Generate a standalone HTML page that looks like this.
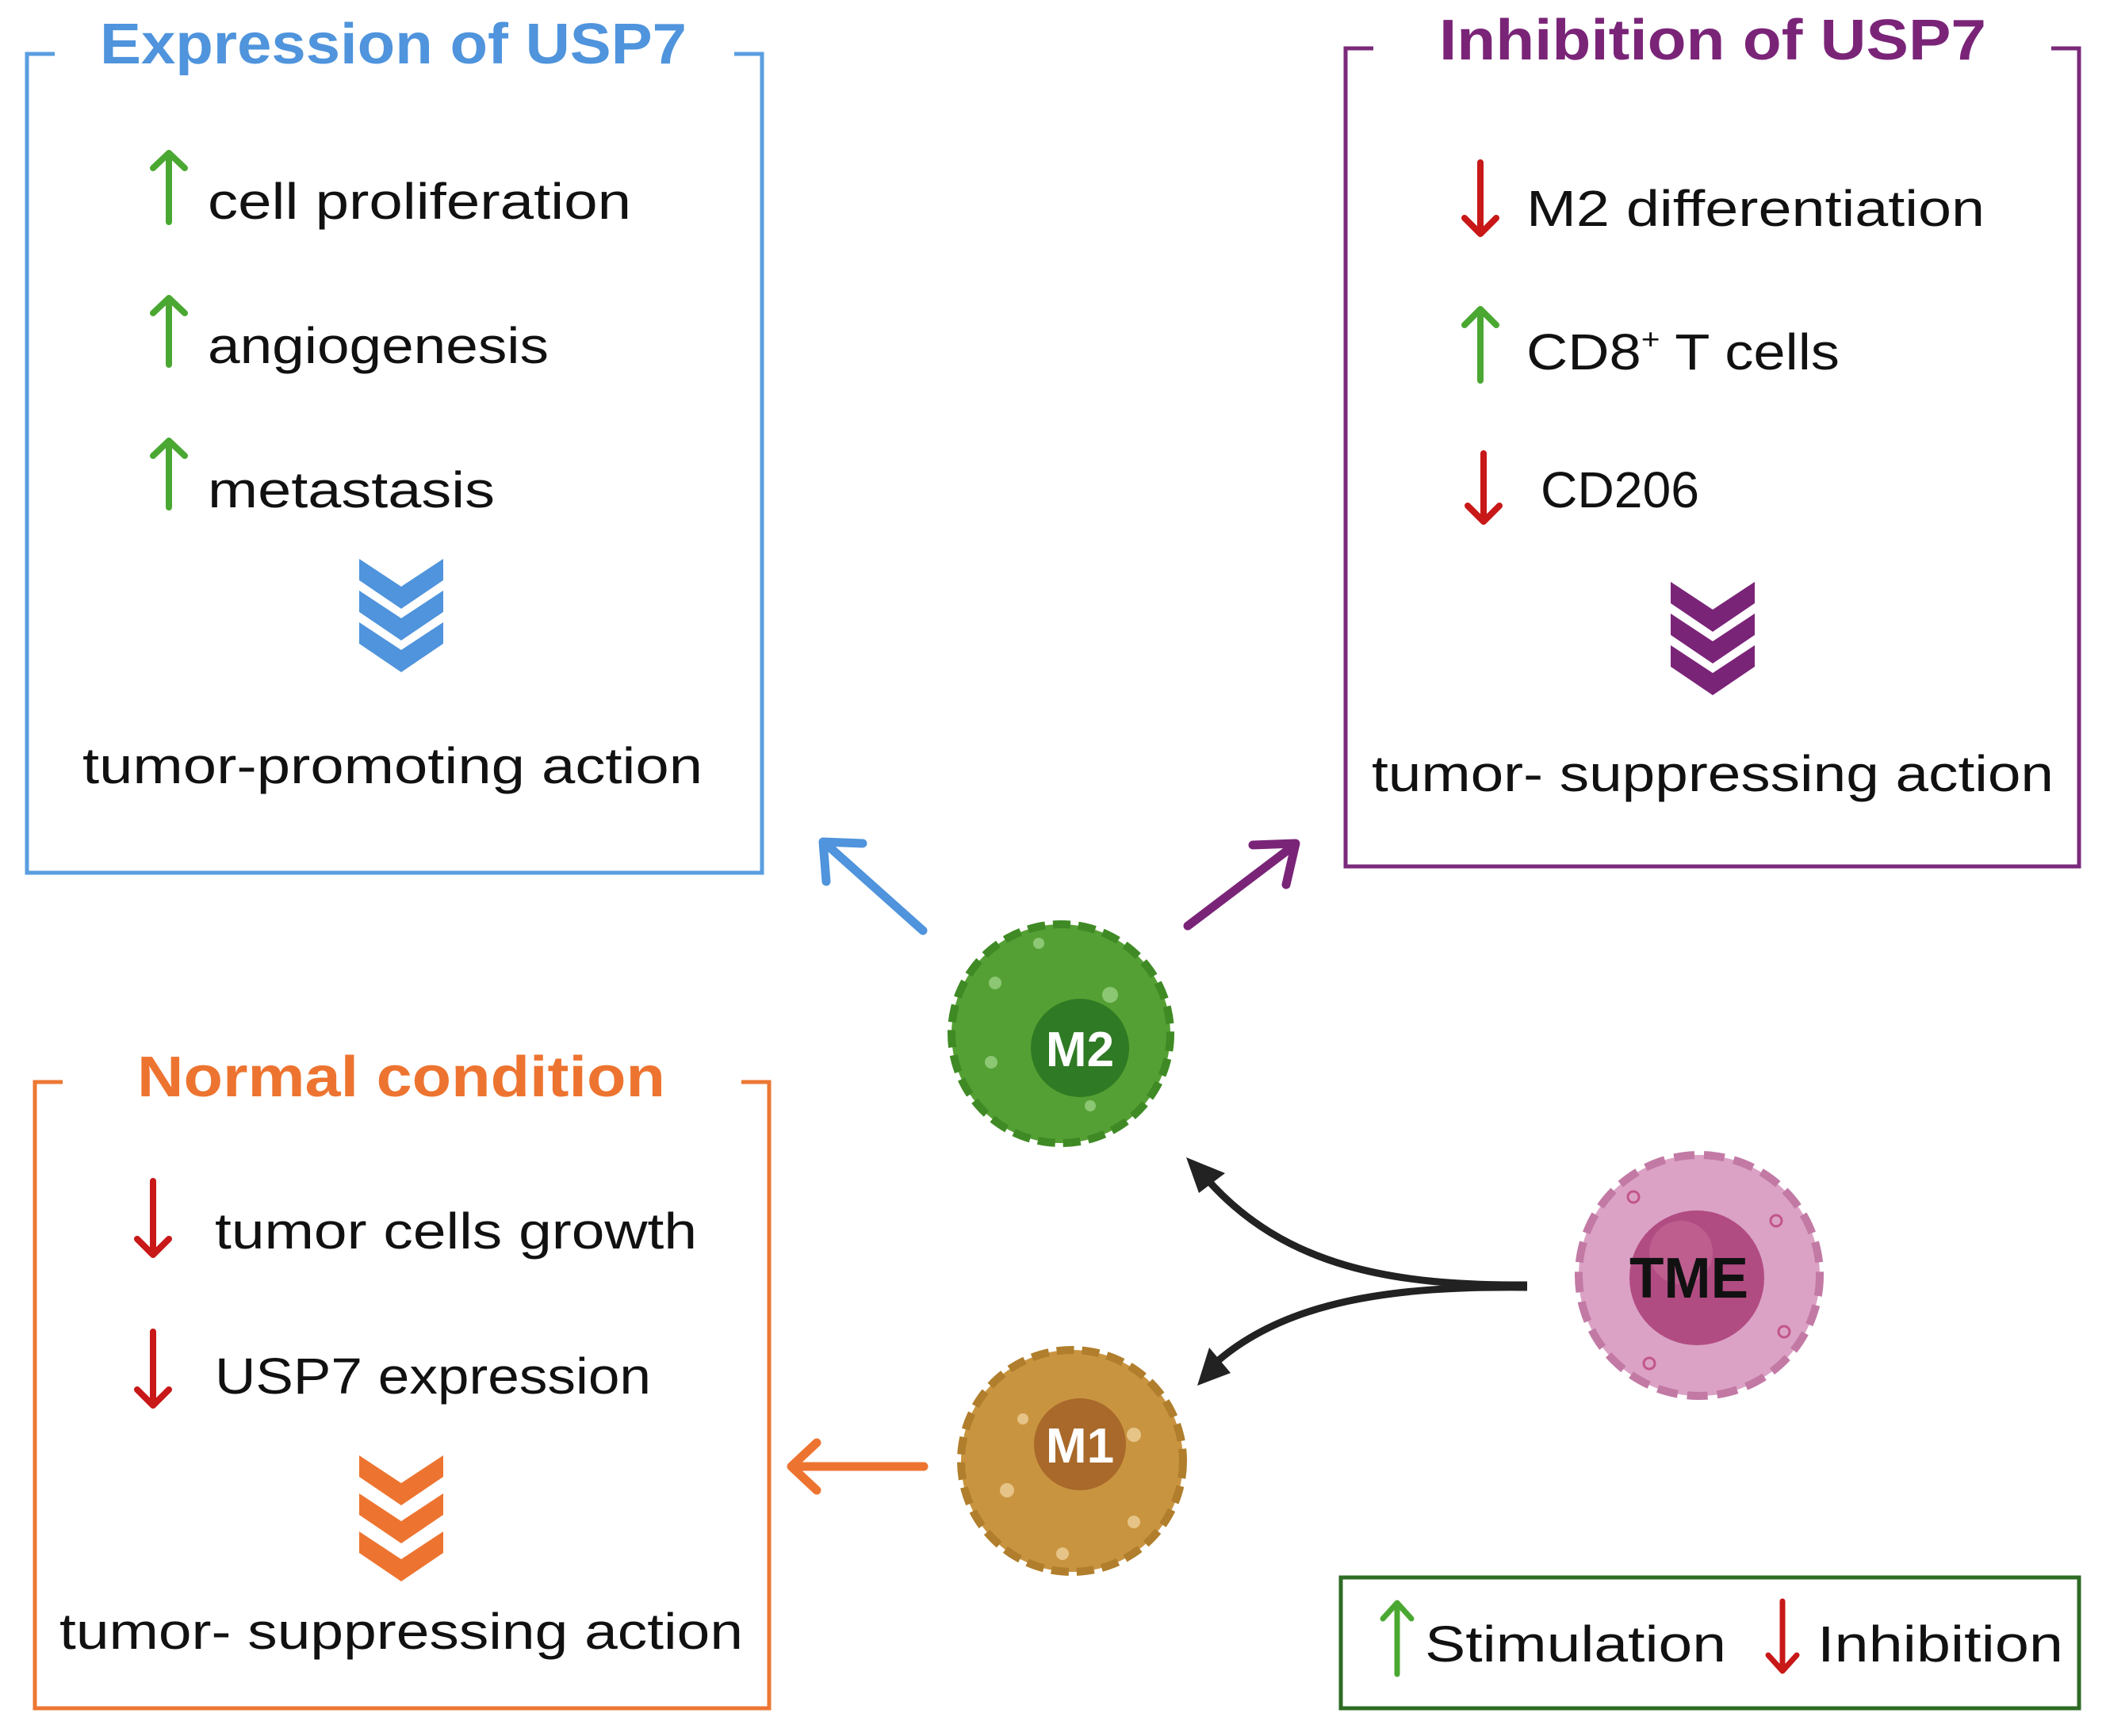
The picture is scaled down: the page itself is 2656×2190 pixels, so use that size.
<!DOCTYPE html>
<html><head><meta charset="utf-8"><style>html,body{margin:0;padding:0;background:#fff}svg{display:block}</style></head>
<body>
<svg width="2656" height="2190" viewBox="0 0 2656 2190" xmlns="http://www.w3.org/2000/svg" font-family="Liberation Sans, sans-serif">
<!-- Blue box -->
<path d="M69,68 H34 V1101 H961 V68 H926" fill="none" stroke="#5a9ee0" stroke-width="5"/>
<text x="496" y="80" text-anchor="middle" font-size="72" font-weight="bold" fill="#4f94dc" textLength="740" lengthAdjust="spacingAndGlyphs">Expression of USP7</text>
<g stroke="#4aa832" stroke-width="8" fill="none" stroke-linecap="round" stroke-linejoin="round">
<path d="M213,280 V195 M193,212 L213,193 L233,212"/>
<path d="M213,460 V378 M193,395 L213,376 L233,395"/>
<path d="M213,640 V558 M193,575 L213,556 L233,575"/>
</g>
<g font-size="64" fill="#111">
<text x="262" y="276" textLength="534" lengthAdjust="spacingAndGlyphs">cell proliferation</text>
<text x="262" y="458" textLength="430" lengthAdjust="spacingAndGlyphs">angiogenesis</text>
<text x="262" y="640" textLength="362" lengthAdjust="spacingAndGlyphs">metastasis</text>
<text x="495" y="988" text-anchor="middle" textLength="782" lengthAdjust="spacingAndGlyphs">tumor-promoting action</text>
</g>
<g fill="#4f94dc">
<path d="M453,705 L506,740 L559,705 V732 L506,768 L453,732 Z"/>
<path d="M453,745 L506,780 L559,745 V772 L506,808 L453,772 Z"/>
<path d="M453,785 L506,820 L559,785 V812 L506,848 L453,812 Z"/>
</g>

<!-- Purple box -->
<path d="M1732,61 H1697 V1093 H2622 V61 H2587" fill="none" stroke="#7b2a7b" stroke-width="5"/>
<text x="2160" y="75" text-anchor="middle" font-size="72" font-weight="bold" fill="#7a2478" textLength="690" lengthAdjust="spacingAndGlyphs">Inhibition of USP7</text>
<g stroke="#c81818" stroke-width="8" fill="none" stroke-linecap="round" stroke-linejoin="round">
<path d="M1867,205 V292 M1847,275 L1867,295 L1887,275"/>
<path d="M1871,572 V655 M1851,638 L1871,658 L1891,638"/>
</g>
<g stroke="#4aa832" stroke-width="8" fill="none" stroke-linecap="round" stroke-linejoin="round">
<path d="M1867,480 V393 M1847,410 L1867,390 L1887,410"/>
</g>
<g font-size="64" fill="#111">
<text x="1925" y="285" textLength="578" lengthAdjust="spacingAndGlyphs">M2 differentiation</text>
<text x="1925" y="466" textLength="395" lengthAdjust="spacingAndGlyphs">CD8<tspan font-size="36" dy="-26">+</tspan><tspan dy="26"> T cells</tspan></text>
<text x="1943" y="640" textLength="200" lengthAdjust="spacingAndGlyphs">CD206</text>
<text x="2160" y="998" text-anchor="middle" textLength="860" lengthAdjust="spacingAndGlyphs">tumor- suppressing action</text>
</g>
<g fill="#7a2478">
<path d="M2107,734 L2160,769 L2213,734 V761 L2160,797 L2107,761 Z"/>
<path d="M2107,774 L2160,809 L2213,774 V801 L2160,837 L2107,801 Z"/>
<path d="M2107,814 L2160,849 L2213,814 V841 L2160,877 L2107,841 Z"/>
</g>

<!-- Orange box -->
<path d="M79,1365 H44 V2155 H970 V1365 H935" fill="none" stroke="#ec7733" stroke-width="5"/>
<text x="506" y="1383" text-anchor="middle" font-size="72" font-weight="bold" fill="#ed7430" textLength="666" lengthAdjust="spacingAndGlyphs">Normal condition</text>
<g stroke="#c81818" stroke-width="8" fill="none" stroke-linecap="round" stroke-linejoin="round">
<path d="M193,1490 V1580 M173,1563 L193,1583 L213,1563"/>
<path d="M193,1680 V1770 M173,1753 L193,1773 L213,1753"/>
</g>
<g font-size="64" fill="#111">
<text x="271" y="1575" textLength="608" lengthAdjust="spacingAndGlyphs">tumor cells growth</text>
<text x="271" y="1758" textLength="550" lengthAdjust="spacingAndGlyphs">USP7 expression</text>
<text x="506" y="2080" text-anchor="middle" textLength="862" lengthAdjust="spacingAndGlyphs">tumor- suppressing action</text>
</g>
<g fill="#ed7430">
<path d="M453,1836 L506,1871 L559,1836 V1863 L506,1899 L453,1863 Z"/>
<path d="M453,1884 L506,1919 L559,1884 V1911 L506,1947 L453,1911 Z"/>
<path d="M453,1932 L506,1967 L559,1932 V1959 L506,1995 L453,1959 Z"/>
</g>

<!-- Legend -->
<rect x="1691" y="1990" width="931" height="165" fill="none" stroke="#2e6b24" stroke-width="5"/>
<g stroke="#4aa832" stroke-width="7" fill="none" stroke-linecap="round" stroke-linejoin="round">
<path d="M1762,2112 V2025 M1744,2042 L1762,2022 L1780,2042"/>
</g>
<g stroke="#c81818" stroke-width="7" fill="none" stroke-linecap="round" stroke-linejoin="round">
<path d="M2248,2020 V2105 M2230,2088 L2248,2108 L2266,2088"/>
</g>
<g font-size="64" fill="#111">
<text x="1797" y="2096" textLength="380" lengthAdjust="spacingAndGlyphs">Stimulation</text>
<text x="2292" y="2096" textLength="310" lengthAdjust="spacingAndGlyphs">Inhibition</text>
</g>

<!-- Arrows -->
<g stroke-width="11" fill="none" stroke-linecap="round" stroke-linejoin="round">
<path d="M1164,1174 L1042,1065 M1042,1112 L1038,1062 L1088,1064" stroke="#4f94dc"/>
<path d="M1498,1168 L1630,1068 M1580,1066 L1634,1064 L1622,1116" stroke="#7a2478"/>
<path d="M1165,1850 L1000,1850 M1030,1820 L998,1850 L1030,1880" stroke="#ed7430"/>
</g>
<g fill="none" stroke="#222" stroke-width="9">
<path d="M1926,1621 C1760,1622 1620,1600 1520,1485"/>
<path d="M1926,1624 C1760,1622 1620,1640 1530,1722"/>
</g>
<path d="M1496,1460 L1545,1480 L1512,1505 Z" fill="#222"/>
<path d="M1510,1748 L1525,1700 L1552,1732 Z" fill="#222"/>

<!-- Cells -->
<g>
<circle cx="1338" cy="1304" r="138" fill="#55a034" stroke="#3f8a25" stroke-width="10" stroke-dasharray="22 10"/>
<circle cx="1255" cy="1240" r="8" fill="#8cc774"/><circle cx="1400" cy="1255" r="10" fill="#8cc774"/><circle cx="1250" cy="1340" r="8" fill="#8cc774"/><circle cx="1375" cy="1395" r="7" fill="#8cc774"/><circle cx="1310" cy="1190" r="7" fill="#8cc774"/>
<circle cx="1362" cy="1322" r="62" fill="#2f7a24"/>
<text x="1362" y="1345" text-anchor="middle" font-size="62" font-weight="bold" fill="#fff">M2</text>
</g>
<g>
<circle cx="1352" cy="1843" r="140" fill="#c99440" stroke="#b07e2c" stroke-width="10" stroke-dasharray="22 10"/>
<circle cx="1270" cy="1880" r="9" fill="#e6c487"/><circle cx="1430" cy="1810" r="9" fill="#e6c487"/><circle cx="1340" cy="1960" r="8" fill="#e6c487"/><circle cx="1430" cy="1920" r="8" fill="#e6c487"/><circle cx="1290" cy="1790" r="7" fill="#e6c487"/>
<circle cx="1362" cy="1822" r="58" fill="#a8692a"/>
<text x="1362" y="1845" text-anchor="middle" font-size="62" font-weight="bold" fill="#fff">M1</text>
</g>
<g>
<circle cx="2143" cy="1609" r="152" fill="#dba2c5" stroke="#c27aa5" stroke-width="10" stroke-dasharray="26 12"/>
<circle cx="2140" cy="1612" r="85" fill="#b14c82"/>
<circle cx="2120" cy="1580" r="40" fill="#c56a98" opacity="0.6"/>
<circle cx="2060" cy="1510" r="7" fill="none" stroke="#c2558a" stroke-width="3"/>
<circle cx="2240" cy="1540" r="7" fill="none" stroke="#c2558a" stroke-width="3"/>
<circle cx="2080" cy="1720" r="7" fill="none" stroke="#c2558a" stroke-width="3"/>
<circle cx="2250" cy="1680" r="7" fill="none" stroke="#c2558a" stroke-width="3"/>
<text x="2130" y="1637" text-anchor="middle" font-size="72" font-weight="bold" fill="#111" textLength="150" lengthAdjust="spacingAndGlyphs">TME</text>
</g>
</svg>
</body></html>
